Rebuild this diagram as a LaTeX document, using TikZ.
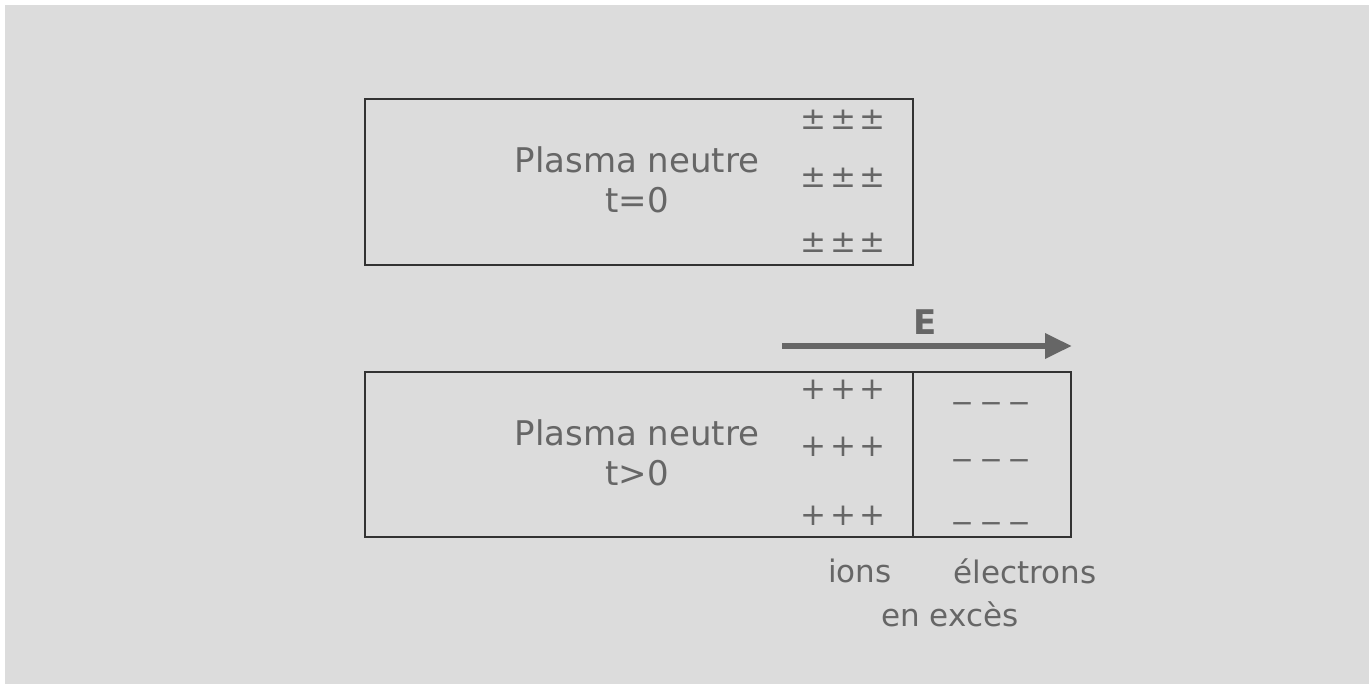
\documentclass[tikz,border=0pt]{standalone}
\usepackage{fontspec}
\setmainfont{DejaVu Sans}
\usetikzlibrary{arrows.meta}
\definecolor{bg}{HTML}{DCDCDC}
\definecolor{ink}{HTML}{666666}
\definecolor{frame}{HTML}{333333}
\begin{document}
\begin{tikzpicture}[x=1pt,y=-1pt,
  lbl/.style={text=ink,font=\fontsize{34}{40}\selectfont,align=center,inner sep=0pt},
  sub/.style={text=ink,font=\fontsize{31}{40}\selectfont,inner sep=0pt},
  sgn/.style={text=ink,font=\fontsize{31}{30}\selectfont,inner sep=0pt},
  msgn/.style={text=ink,font=\fontsize{28}{30}\selectfont,inner sep=0pt},
  boxst/.style={draw=frame,line width=1.6pt}]
\fill[white] (0,0) rectangle (1369,684);
\fill[bg] (5,5) rectangle (1369,684);
\useasboundingbox (0,0) rectangle (1369,684);
% boxes
\node[boxst,minimum width=548pt,minimum height=166pt,anchor=north west,inner sep=0pt] (b1) at (364,98) {};
\node[boxst,minimum width=548pt,minimum height=165pt,anchor=north west,inner sep=0pt] (b2) at (364,371) {};
\node[boxst,minimum width=158pt,minimum height=165pt,anchor=north west,inner sep=0pt] (b3) at (912,371) {};
% labels
\node[lbl] (l1) at (637,180) {Plasma neutre\\t=0};
\node[lbl] (l2) at (637,453) {Plasma neutre\\t>0};
% signs
\foreach \y [count=\i] in {120,178,243}{
  \foreach \x [count=\j] in {813,843,872}{
    \node[sgn] (pm\i\j) at (\x,\y) {±};
  }
}
\foreach \y [count=\i] in {390,447,516}{
  \foreach \x [count=\j] in {813,843,872}{
    \node[sgn] (p\i\j) at (\x,\y) {+};
  }
}
\foreach \y [count=\i] in {408,465,528}{
  \foreach \x [count=\j] in {962,991,1019}{
    \node[msgn] (m\i\j) at (\x,\y) {−};
  }
}
% arrow
\coordinate (a0) at (782,346);
\coordinate (a1) at (1072,346);
\draw[ink,line width=6.5pt,-{Triangle[length=27pt,width=24pt]}] (a0) -- (a1);
\node[text=ink,font=\fontsize{34}{40}\selectfont\bfseries,inner sep=0pt] (E) at (925,322) {E};
% bottom labels
\node[sub] (ions) at (860,571) {ions};
\node[sub] (el) at (1025,571) {électrons};
\node[sub] (ex) at (950,614) {en excès};
\end{tikzpicture}
\end{document}
